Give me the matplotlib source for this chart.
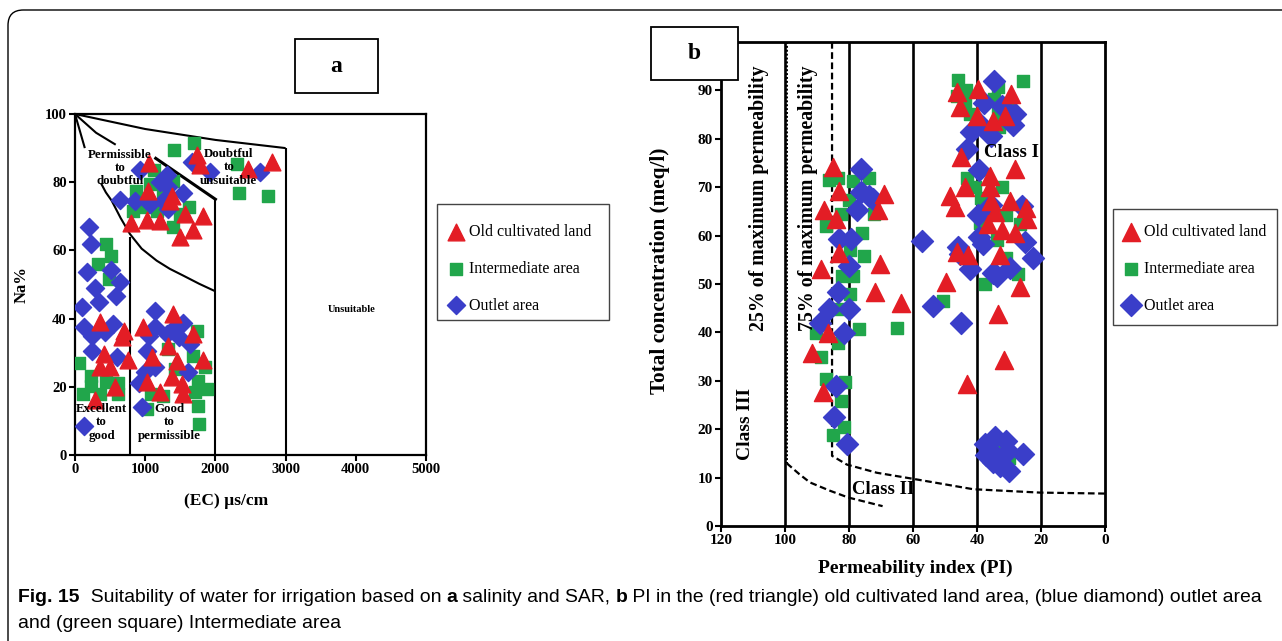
import matplotlib
matplotlib.use("Agg")
import matplotlib.pyplot as plt
from matplotlib.patches import Rectangle, FancyBboxPatch
import numpy as np

plt.rcParams['font.family'] = ['Liberation Serif', 'DejaVu Serif']

RED = '#e31d25'
GREEN = '#21a64b'
BLUE = '#3a3ec9'

# ---- panel a: EC vs Na% ----
ec_red = [1054, 1733, 1780, 2469, 2801, 1045, 1377, 1353, 793, 1021, 1211, 1567, 1828, 1676, 1496,
          356, 703, 665, 413, 760, 356, 499, 570, 285, 973, 1400, 1329, 1685, 1092, 1021, 1377,
          1448, 1520, 1543, 1211, 1828]
na_red = [85.5, 88, 85, 84, 86, 77.5, 76, 74.6, 68, 69, 68.7, 70.7, 70, 66, 64,
          39, 36.5, 34.5, 29.6, 28, 25.7, 25.7, 20, 16, 37.5, 41.3, 32, 35.5, 28.6, 21.3, 22.8,
          27.7, 20.8, 18, 18.4, 28]

ec_green = [1695, 1410, 2302, 1125, 1400, 2341, 2754, 869, 1068, 1282, 950, 831, 1000, 1163, 1496,
            1629, 1391, 1258, 442, 513, 332, 480, 62, 228, 228, 119, 442, 356, 617, 617, 1733,
            1685, 1424, 1852, 1757, 1709, 1876, 1757, 1771, 1021, 1078, 1258, 1329]
na_green = [91.4, 89.4, 85.3, 83.6, 80.4, 76.7, 76, 77.5, 79.5, 79.5, 73.6, 71.6, 72.6, 71.6, 70.7,
            72.8, 67, 77.5, 61.9, 58.5, 56, 51.6, 26.9, 23.3, 20.3, 17.9, 21.3, 17.9, 21, 17.9, 36.5,
            29.1, 25.2, 25.7, 21.8, 18.4, 19.4, 14.5, 9.1, 13.5, 17.9, 17.4, 31]

ec_blue = [926, 1662, 1923, 2635, 1306, 1211, 1329, 1534, 641, 855, 1258, 1329, 1068, 204, 228,
           166, 285, 508, 641, 584, 347, 104, 128, 546, 427, 247, 247, 603, 133, 1139, 1139, 1059,
           1306, 1424, 1543, 1481, 1638, 1030, 1139, 1000, 1614, 907, 954]
na_blue = [83.6, 85.8, 82.9, 82.9, 82.2, 80, 78.7, 76.7, 74.9, 74.6, 74.6, 72.1, 73.6, 66.8, 62,
           53.6, 48.9, 54.3, 50.6, 46.7, 44.8, 43.5, 37.6, 38.4, 36, 35, 30.6, 28.6, 8.4, 42.3, 37.4, 35,
           35.5, 37.4, 38.6, 34.5, 32.5, 30.4, 25.7, 24.2, 24.2, 21, 14]

# ---- panel b: PI vs total concentration ----
pi_red = [85.0, 83.2, 87.7, 84.0, 83.2, 88.7, 91.5, 86.6, 88.0, 70.4, 72.0, 71, 69, 63.9,
          46.4, 45.2, 39.6, 40, 35, 31.3, 29.5, 45, 28.2, 48.5, 46.9, 43.8, 36, 36, 35.5, 34.4,
          36.6, 32.3, 29.7, 28.2, 24.5, 24.7, 32.9, 42.8, 49.6, 26.6, 33.4, 31.5, 43.1, 46.4]
tc_red = [74.1, 69.3, 65.3, 63.4, 56.4, 53.1, 35.7, 39.8, 27.6, 54.2, 48.3, 65.3, 68.6, 46.0,
          89.7, 86.5, 90.2, 84.8, 83.7, 84.8, 89.3, 76.3, 73.8, 68.2, 66, 70.1, 72.3, 70, 67.1, 64.9,
          62.3, 61.2, 67.1, 60.5, 63.4, 65.6, 56, 56, 50.5, 49.4, 43.8, 34.2, 29.4, 56.7]

pi_green = [86.1, 83.5, 78.8, 73.8, 82.6, 80.1, 72.2, 87.3, 76, 79.6, 75.4, 82.1, 78.9, 79.7, 83.5,
            90.3, 76.9, 65, 83.3, 88.7, 87.3, 81.2, 82.6, 81.6, 85,
            45.9, 46.2, 43.5, 43.8, 42.3, 33.4, 34.7, 29.7, 25.6, 33.1, 33.4,
            43.1, 40.7, 38.9, 39.1, 32.3, 31, 26.6, 31, 33.9, 37.6, 27.1, 50.7, 33.7, 29.9]
tc_green = [71.5, 71.9, 71.2, 71.9, 64.5, 67.3, 64.4, 61.9, 60.5, 57, 55.7, 51.6, 51.6, 47.9, 44.9,
            39.8, 40.7, 40.9, 37.9, 35, 30.3, 29.8, 25.9, 20.5, 18.7,
            92.1, 88.9, 90, 87.4, 85.2, 90.8, 88.2, 87.4, 91.9, 82.5, 85.2,
            71.9, 70.1, 67.8, 62.7, 70.1, 64.3, 62.3, 55.4, 59, 50.1, 52, 46.4, 15.7, 14]

pi_blue = [76.4, 76.4, 73.6, 72.5, 77.5, 83, 79.3, 80, 83.5, 86.1, 80, 89.2, 81.7, 84, 84.8, 80.7,
           57.1, 53.9, 44.9, 46, 45.4, 42.3, 38.1, 35, 33.9, 29.7, 25, 22.6, 39.3, 39.6, 35.5, 25.8, 39.3,
           34.6, 37.9, 32.3, 28.2, 28.7, 39.1, 41.9, 35.5, 43,
           37.6, 37.1, 34.4, 33.4, 32.9, 30.8, 30.3, 29.9, 36, 25.6, 35]
tc_blue = [73.8, 69, 68.2, 67.5, 65.3, 59.3, 59.3, 53.8, 48.3, 44.9, 44.9, 42, 39.8, 29, 22.6, 17,
           58.8, 45.5, 42, 57.6, 56.2, 53.1, 58.2, 52.3, 51.6, 53.4, 58.6, 55.3, 73.5, 64.3, 66.4, 66.2, 59.7,
           92, 87.4, 86.7, 85.2, 82.8, 83, 81.5, 80.6, 77.8,
           16.9, 14.6, 18.3, 13.9, 12.4, 17.6, 15.4, 11.3, 15.7, 14.8, 13.2]

series = ['Old cultivated land', 'Intermediate area', 'Outlet area']

W, H = 1282, 641
fig = plt.figure(figsize=(W / 100, H / 100), dpi=100)


def px_axes(l, t, r, b):
    return fig.add_axes([l / W, 1 - b / H, (r - l) / W, (b - t) / H])


def px_rect(l, t, r, b, **kw):
    fig.add_artist(Rectangle((l / W, 1 - b / H), (r - l) / W, (b - t) / H,
                             transform=fig.transFigure, **kw))


def style_ticks(ax, size, spw):
    ax.tick_params(direction='out', length=4, width=1.5, labelsize=size, pad=2)
    for lab in ax.get_xticklabels() + ax.get_yticklabels():
        lab.set_fontweight('bold')
    for sp in ax.spines.values():
        sp.set_linewidth(spw)


# ================= panel a =================
axa = px_axes(75, 114, 426, 455)
axa.set_xlim(0, 5000)
axa.set_ylim(0, 100)
axa.set_xticks(range(0, 5001, 1000))
axa.set_yticks(range(0, 101, 20))
style_ticks(axa, 10.5, 1.6)

lk = dict(color='black', lw=1.5, solid_capstyle='butt')
axa.plot([0, 1000, 2000, 3000], [100, 95.6, 92.4, 90], **lk)
axa.plot([3000, 3000], [90, 0], **lk)
axa.plot([0, 140], [100, 90], **lk)
axa.plot([0, 300, 580], [100, 94.5, 91], **lk)
axa.plot([370, 440, 522, 650, 783, 950, 1163, 1350, 1543, 1770, 2000],
         [79.7, 77, 74.6, 69.5, 64.8, 60.5, 57, 54.6, 52.6, 50.2, 48], **lk)
axa.plot([1150, 2000], [87, 75], color='black', lw=2.2)
axa.plot([2000, 2000], [75, 0], **lk)
axa.plot([780, 780], [0, 64], **lk)

axa.scatter(ec_green, na_green, marker='s', s=75, color=GREEN, zorder=3, label=series[1])
axa.scatter(ec_blue, na_blue, marker='D', s=85, color=BLUE, zorder=3, label=series[2])
axa.scatter(ec_red, na_red, marker='^', s=145, color=RED, zorder=4, label=series[0])

tk = dict(fontsize=9.3, fontweight='bold', ha='center', va='center', linespacing=1.15, zorder=5)
axa.text(640, 84.2, 'Permissible\nto\ndoubtful', **tk)
axa.text(2190, 84.4, 'Doubtful\nto\nunsuitable', **tk)
axa.text(380, 9.6, 'Excellent\nto\ngood', **tk)
axa.text(1344, 9.6, 'Good\nto\npermissible', **tk)
axa.text(3940, 42.8, 'Unsuitable', fontsize=7.5, fontweight='bold', ha='center', va='center')

axa.set_xlabel('(EC) \u00b5s/cm', fontsize=12.5, fontweight='bold')
axa.set_ylabel('Na%', fontsize=12, fontweight='bold')
axa.xaxis.set_label_coords(0.43, -0.11)
axa.yaxis.set_label_coords(-0.128, 0.5)

# ================= panel b =================
axb = px_axes(721, 42, 1105, 526)
axb.set_xlim(120, 0)
axb.set_ylim(0, 100)
axb.set_xticks(range(0, 121, 20))
axb.set_yticks(range(0, 100, 10))
style_ticks(axb, 11, 2)

for v in [100, 80, 60, 40, 20]:
    axb.axvline(v, color='black', lw=1.9, zorder=1)

dk = dict(color='black', lw=1.6, linestyle=(0, (3, 1.6)), zorder=2)
axb.plot([85.3, 85.3, 84.5, 80.7, 71.3, 60, 41.2, 20.3, 0],
         [100, 14.5, 14.2, 12.7, 11, 9.75, 7.6, 6.9, 6.7], **dk)
axb.plot([99.4, 99.4], [100, 13], color='black', lw=1.4, linestyle=(0, (1, 1)), zorder=2)
axb.plot([99.4, 99, 95.5, 92.2, 86, 80.3, 69.5],
         [13, 12.7, 10.7, 9, 7.3, 5.9, 4.1], **dk)

axb.scatter(pi_green, tc_green, marker='s', s=70, color=GREEN, zorder=3, label=series[1])
axb.scatter(pi_blue, tc_blue, marker='D', s=125, color=BLUE, zorder=3, label=series[2])
axb.scatter(pi_red, tc_red, marker='^', s=170, color=RED, zorder=4, label=series[0])

bk = dict(fontweight='bold', ha='center', va='center', zorder=5)
axb.text(108.2, 67.8, '25% of maximum permeability', rotation=90, fontsize=14.3, **bk)
axb.text(92.9, 67.8, '75% of maximum permeability', rotation=90, fontsize=14.3, **bk)
axb.text(112.4, 21, 'Class III', rotation=90, fontsize=14, **bk)
axb.text(69.3, 7.6, 'Class II', fontsize=13.5, **bk)
axb.text(29.3, 77.1, 'Class I', fontsize=13.5, **bk)

axb.set_xlabel('Permeability index (PI)', fontsize=14, fontweight='bold')
axb.set_ylabel('Total concentration (meq/l)', fontsize=15.3, fontweight='bold')
axb.xaxis.set_label_coords(0.505, -0.07)
axb.yaxis.set_label_coords(-0.133, 0.527)

# ---- legends (frame drawn separately to match the boxed layout) ----
for ax, (hx, hy), box in [(axa, (446, 224), (437, 204, 609, 320)),
                          (axb, (1121, 224), (1113, 209, 1277, 325))]:
    h, l = ax.get_legend_handles_labels()
    order = [l.index(s) for s in series]
    fig.legend([h[i] for i in order], [l[i] for i in order],
               loc='upper left', bbox_to_anchor=(hx / W, 1 - hy / H),
               fontsize=11.5, frameon=False, borderpad=0, labelspacing=1.3,
               handletextpad=0.25, handlelength=1.2, borderaxespad=0, scatterpoints=1)
    px_rect(*box, facecolor='none', edgecolor='#444444', lw=1.0, zorder=9)

# ---- panel label boxes ----
for (l, t, r, b, s) in [(295, 39, 378, 93, 'a'), (651, 27, 738, 80, 'b')]:
    px_rect(l, t, r, b, facecolor='white', edgecolor='black', lw=1.3, zorder=10)
    fig.text((l + r) / 2 / W, 1 - (t + b) / 2 / H, s, fontsize=17, fontweight='bold',
             ha='center', va='center', zorder=11)

# ---- outer rounded frame ----
fig.add_artist(FancyBboxPatch((8 / W, -0.05), 1.1, 1.05 - 10 / H,
                              boxstyle='round,pad=0,rounding_size=0.012',
                              mutation_aspect=W / H, transform=fig.transFigure,
                              facecolor='none', edgecolor='black', lw=1.0, zorder=0))

# ---- caption ----
cap_font = ['Liberation Sans Narrow', 'Liberation Sans', 'DejaVu Sans']
line1 = [('Fig. 15', 'bold'), ('  Suitability of water for irrigation based on ', 'normal'),
         ('a', 'bold'), (' salinity and SAR, ', 'normal'), ('b', 'bold'),
         (' PI in the (red triangle) old cultivated land area, (blue diamond) outlet area', 'normal')]
line2 = [('and (green square) Intermediate area', 'normal')]

renderer = fig.canvas.get_renderer()


def run_width(runs, size):
    tot = 0
    for s, w in runs:
        t = fig.text(0, 0, s, fontsize=size, fontweight=w, family=cap_font)
        tot += t.get_window_extent(renderer).width
        t.remove()
    return tot


cap_size = 10 * (1244 / run_width(line1, 10))


def put_runs(runs, x, y):
    for s, w in runs:
        t = fig.text(x / W, 1 - y / H, s, fontsize=cap_size, fontweight=w,
                     family=cap_font, va='center', ha='left')
        x += t.get_window_extent(renderer).width


put_runs(line1, 18, 597)
put_runs(line2, 18, 624)

fig.savefig('out.png', dpi=100)
